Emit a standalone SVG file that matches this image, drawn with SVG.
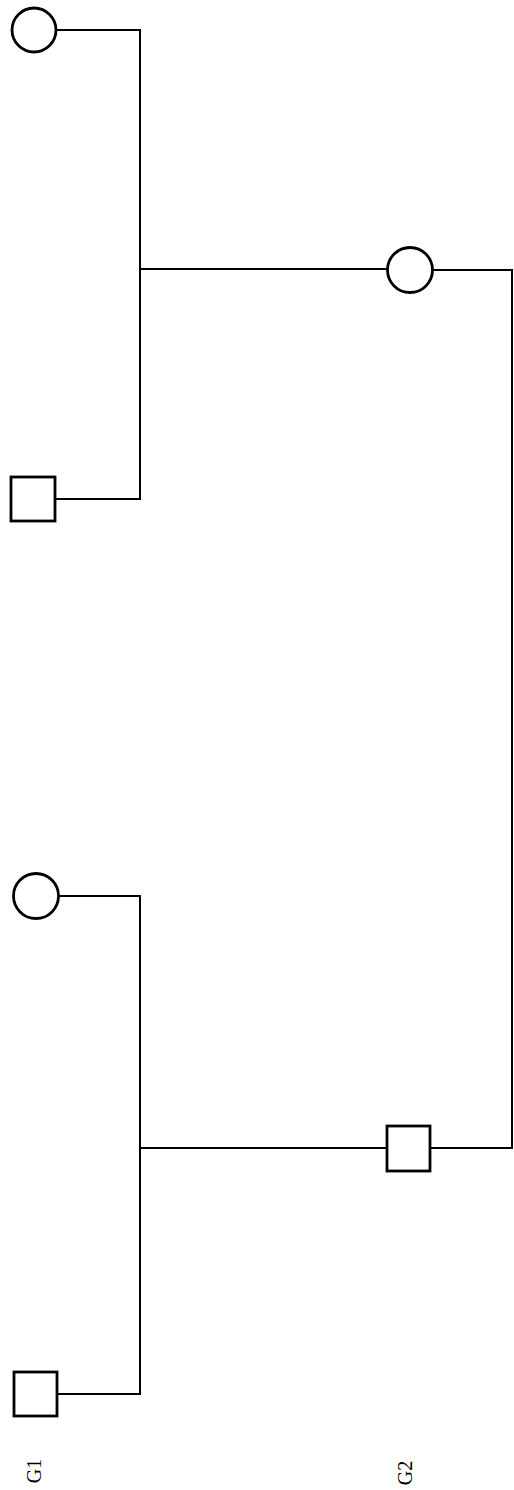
<svg xmlns="http://www.w3.org/2000/svg" width="514" height="1490" viewBox="0 0 514 1490">
<style>
.n{fill:#fff;stroke:#000;stroke-width:2.8}
.c{fill:none;stroke:#000;stroke-width:2}
.l{font-family:"Liberation Serif",serif;font-size:20px;fill:#000}
</style>
<rect width="514" height="1490" fill="#fff"/>
<g id="connectors">
<polyline class="c" points="56,30 140,30 140,499 55,499"/>
<line class="c" x1="140" y1="269" x2="387" y2="269"/>
<polyline class="c" points="433,270 512,270 512,1148 430,1148"/>
<polyline class="c" points="58,896 140,896 140,1394 57,1394"/>
<line class="c" x1="140" y1="1148" x2="387" y2="1148"/>
</g>
<g id="g1-female-a"><circle class="n" cx="34" cy="30" r="22"/></g>
<g id="g1-male-a"><rect class="n" x="11" y="477" width="44" height="44"/></g>
<g id="g2-female"><circle class="n" cx="410" cy="270" r="22.5"/></g>
<g id="g1-female-b"><circle class="n" cx="36" cy="896" r="22.5"/></g>
<g id="g1-male-b"><rect class="n" x="14" y="1372" width="43" height="44"/></g>
<g id="g2-male"><rect class="n" x="387" y="1126" width="43" height="45"/></g>
<g id="labels">
<text class="l" transform="translate(34,1471) rotate(-90)" text-anchor="middle" dominant-baseline="central">G1</text>
<text class="l" transform="translate(405,1473) rotate(-90)" text-anchor="middle" dominant-baseline="central">G2</text>
</g>
</svg>
